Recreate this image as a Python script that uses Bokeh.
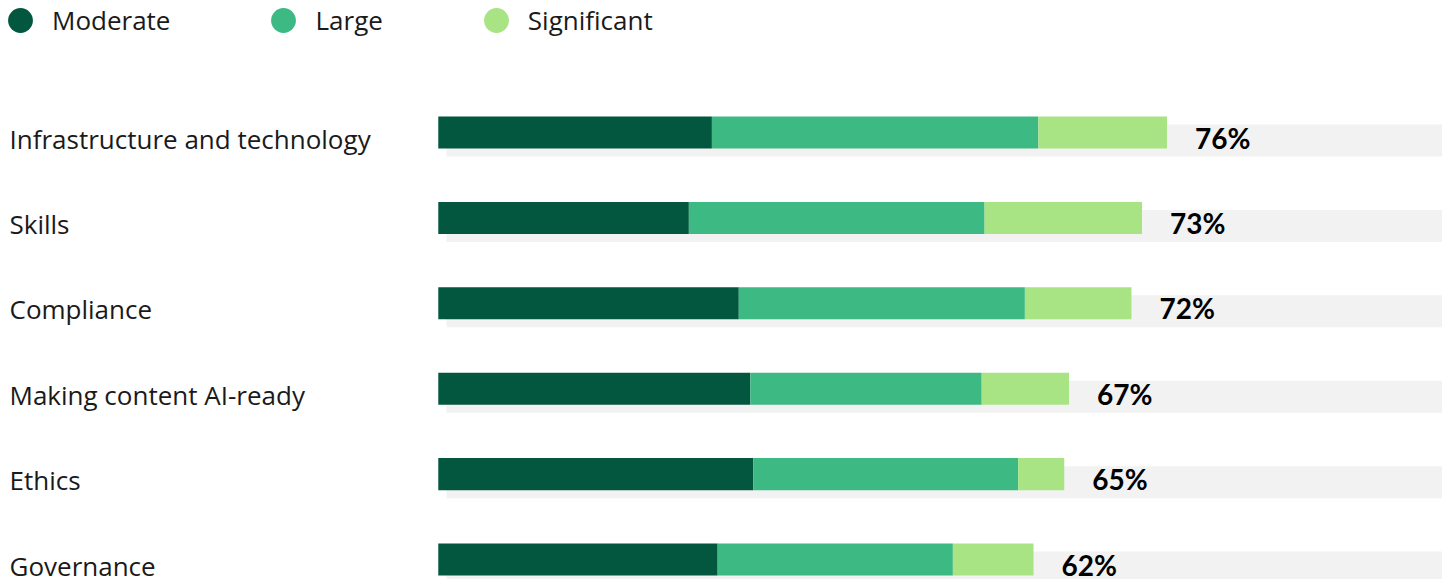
from bokeh.plotting import figure
from bokeh.models import Range1d, ColumnDataSource, Legend, LegendItem
from bokeh.embed import file_html
from bokeh.resources import INLINE
from bokeh.core.properties import value

categories = ["Infrastructure and technology", "Skills", "Compliance",
              "Making content AI-ready", "Ethics", "Governance"]
moderate = [28.5, 26.1, 31.3, 32.5, 32.8, 29.1]
large = [34.0, 30.8, 29.8, 24.1, 27.6, 24.5]
significant = [13.4, 16.4, 11.1, 9.1, 4.8, 8.4]
totals = ["76%", "73%", "72%", "67%", "65%", "62%"]
series = ["Moderate", "Large", "Significant"]
colors = ["#03573F", "#3DB983", "#A8E384"]

W, H = 1442, 579
p = figure(width=W, height=H, output_backend="svg", toolbar_location=None,
           x_range=Range1d(-45.6, 104.6), y_range=Range1d(-0.234, 6.546),
           min_border=0)
p.xaxis.visible = False
p.yaxis.visible = False
p.grid.visible = False
p.outline_line_color = None

n = len(categories)
ypos = [n - 1 - i for i in range(n)]
gy_off = 0.094
bar_h = 0.375

src = ColumnDataSource(dict(
    y=ypos,
    gy=[v - gy_off for v in ypos],
    cat=categories,
    m0=[0] * n,
    m1=moderate,
    l1=[a + b for a, b in zip(moderate, large)],
    s1=[a + b + c for a, b, c in zip(moderate, large, significant)],
    glft=[0.85] * n,
    grt=[p.x_range.end] * n,
    xstart=[p.x_range.start] * n,
    tot=totals,
))

p.hbar(y="gy", left="glft", right="grt", height=bar_h, source=src,
       fill_color="#F2F2F2", line_color=None)
p.hbar(y="y", left="m0", right="m1", height=bar_h, source=src,
       fill_color=colors[0], line_color=None)
p.hbar(y="y", left="m1", right="l1", height=bar_h, source=src,
       fill_color=colors[1], line_color=None)
p.hbar(y="y", left="l1", right="s1", height=bar_h, source=src,
       fill_color=colors[2], line_color=None)

p.text(x="xstart", y="gy", text="cat", source=src, x_offset=9, y_offset=-2,
       text_font=value("Open Sans"), text_font_size="26px",
       text_color="#1a1a1a", text_baseline="middle", text_align="left")
p.text(x="s1", y="gy", text="tot", source=src, x_offset=28, y_offset=-3,
       text_font=value("Lato"), text_font_size="28px", text_font_style="bold",
       text_color="#000000", text_baseline="middle", text_align="left")

items = []
for name, c in zip(series, colors):
    r = p.scatter(x=[float("nan")], y=[float("nan")], marker="circle",
                  fill_color=c, line_color=None)
    items.append(LegendItem(label=name, renderers=[r]))

legend = Legend(items=items, orientation="horizontal", location=(-11, 528),
                glyph_width=62, glyph_height=62, label_standoff=1, spacing=82,
                padding=0, margin=0, background_fill_alpha=0, border_line_alpha=0,
                label_text_font="Open Sans", label_text_font_size="26px",
                label_text_color="#1a1a1a", label_text_baseline="middle")
p.add_layout(legend, "center")

open("out.html", "w").write(file_html(p, INLINE))
